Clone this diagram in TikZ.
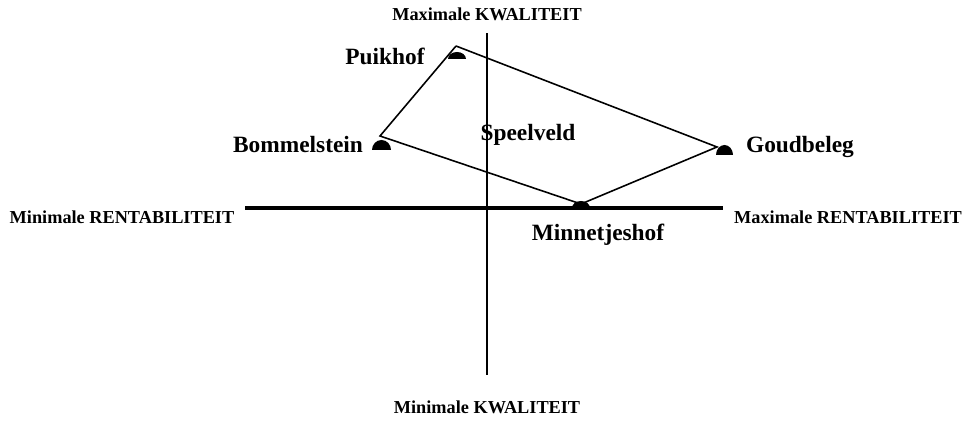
\documentclass[tikz,border=0pt]{standalone}
\usepackage{fontspec}
\setmainfont{Liberation Serif}
\begin{document}
\begin{tikzpicture}[
                x=0.02cm, y=0.02cm,
                axis/.style={line width=1.4pt},
                bigtxt/.style={font=\fontsize{13.3}{15}\selectfont\bfseries, anchor=base, inner sep=0pt},
                smalltxt/.style={font=\fontsize{10.4}{12}\selectfont\bfseries, anchor=base, inner sep=0pt},
                edge/.style={line width=0.9pt}
            ]
            \useasboundingbox (0,0) rectangle (967,425);

            % assen
            \coordinate (kwtop) at (487,392);
            \coordinate (kwbot) at (487,50);
            \coordinate (releft) at (245,217);
            \coordinate (reright) at (723,217);
            \draw[axis] (kwbot) -- (kwtop);
            \draw[axis, line width=2.3pt] (releft) -- (reright);

            % hoekpunten
            \coordinate (puik) at (456,379);
            \coordinate (goud) at (717,278);
            \coordinate (minn) at (581,221);
            \coordinate (bomm) at (380,289);

            % speelveld
            \draw[edge] (puik) -- (goud) -- (minn) -- (bomm) -- (puik);

            % halve bolletjes
            \fill (448,366) arc[start angle=180, end angle=0, x radius=9, y radius=7];
            \fill (372,275) arc[start angle=180, end angle=0, x radius=9.5, y radius=10];
            \fill (572,217) arc[start angle=180, end angle=0, x radius=9, y radius=7];
            \fill (716,270) arc[start angle=180, end angle=0, x radius=8.5, y radius=10];

            % namen
            \node[bigtxt] (lpuik) at (385,360) {Puikhof};
            \node[bigtxt] (lbomm) at (298,272) {Bommelstein};
            \node[bigtxt] (lspeel) at (528,284) {Speelveld};
            \node[bigtxt] (lgoud) at (800,272) {Goudbeleg};
            \node[bigtxt] (lminn) at (598,184) {Minnetjeshof};

            % asnamen
            \node[smalltxt] (minre) at (122,201) {Minimale RENTABILITEIT};
            \node[smalltxt] (maxre) at (848,201) {Maximale RENTABILITEIT};
            \node[smalltxt] (maxkw) at (487,404) {Maximale KWALITEIT};
            \node[smalltxt] (minkw) at (487,11) {Minimale KWALITEIT};
        \end{tikzpicture}
\end{document}
